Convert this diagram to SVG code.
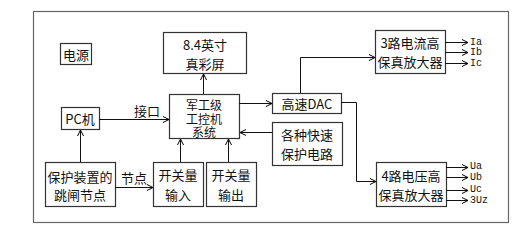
<svg xmlns="http://www.w3.org/2000/svg" width="531" height="235" viewBox="0 0 531 235">
<defs>
<marker id="ah" markerWidth="8" markerHeight="8" refX="7" refY="4" orient="auto" markerUnits="userSpaceOnUse">
<polyline points="1,1 7,4 1,7" fill="none" stroke="#000" stroke-width="1"/>
</marker>
<style>
.b{fill:#fff;stroke:#333;stroke-width:1.2}
.t{font-family:"Noto Sans CJK SC","Liberation Sans",sans-serif;font-size:13px;fill:#111;text-anchor:middle;dominant-baseline:central}
.s{font-size:12px}
.l{font-family:"Liberation Mono","Noto Sans CJK SC",monospace;font-size:10px;fill:#111;dominant-baseline:central}
.c{fill:none;stroke:#111;stroke-width:1;marker-end:url(#ah)}
</style>
</defs>
<rect width="531" height="235" fill="#fff"/>
<rect x="33.5" y="11.5" width="475" height="211" fill="none" stroke="#666" stroke-width="1.2"/>

<g id="power"><rect class="b" x="60.5" y="43.5" width="31" height="21"/><text class="t" x="76" y="54">电源</text></g>
<g id="screen"><rect class="b" x="163.5" y="32.5" width="83" height="41"/><text class="t" x="205" y="44.5">8.4英寸</text><text class="t" x="205" y="63.5">真彩屏</text></g>
<g id="ipc"><rect class="b" x="169.5" y="94.5" width="70" height="44"/><text class="t s" x="204" y="104">军工级<tspan x="204" dy="13.5">工控机</tspan><tspan x="204" dy="13.5">系统</tspan></text></g>
<g id="pc"><rect class="b" x="61.5" y="107.5" width="38" height="22"/><text class="t" x="80" y="118">PC机</text></g>
<g id="trip"><rect class="b" x="45.5" y="162.5" width="70" height="44"/><text class="t" x="80" y="176">保护装置的</text><text class="t" x="80" y="194">跳闸节点</text></g>
<g id="swin"><rect class="b" x="153.5" y="162.5" width="50" height="44"/><text class="t" x="178" y="174">开关量</text><text class="t" x="178" y="194">输入</text></g>
<g id="swout"><rect class="b" x="206.5" y="162.5" width="50" height="44"/><text class="t" x="231" y="174">开关量</text><text class="t" x="231" y="194">输出</text></g>
<g id="dac"><rect class="b" x="272.5" y="93.5" width="69" height="20"/><text class="t" x="307" y="103">高速DAC</text></g>
<g id="prot"><rect class="b" x="272.5" y="122.5" width="70" height="43"/><text class="t" x="307" y="134">各种快速</text><text class="t" x="307" y="153">保护电路</text></g>
<g id="iamp"><rect class="b" x="375.5" y="30.5" width="70" height="43"/><text class="t" x="410" y="42.5">3路电流高</text><text class="t" x="410" y="61.5">保真放大器</text></g>
<g id="uamp"><rect class="b" x="376.5" y="162.5" width="70" height="44"/><text class="t" x="411" y="175">4路电压高</text><text class="t" x="411" y="194">保真放大器</text></g>

<g id="connectors">
<path class="c" d="M203.5 94 V74"/>
<path class="c" d="M99 119.5 H169"/>
<path class="c" d="M80.5 162 V130"/>
<path class="c" d="M115 187.5 H153"/>
<path class="c" d="M180.5 162 V139"/>
<path class="c" d="M228.5 162 V139"/>
<path class="c" d="M239 103.5 H272"/>
<path class="c" d="M272 132.5 H240"/>
<path class="c" d="M300.5 93 V57.5 H375"/>
<path class="c" d="M341 102.5 H356.5 V181.5 H376"/>
<path class="c" d="M445 42.5 H468"/>
<path class="c" d="M445 52.5 H468"/>
<path class="c" d="M445 63.5 H468"/>
<path class="c" d="M446 167.5 H468"/>
<path class="c" d="M446 177.5 H468"/>
<path class="c" d="M446 190.5 H468"/>
<path class="c" d="M446 200.5 H468"/>
</g>
<text class="t" x="147" y="110">接口</text>
<text class="t" x="134" y="177">节点</text>
<text class="l" x="470" y="42">Ia</text>
<text class="l" x="470" y="52.5">Ib</text>
<text class="l" x="470" y="63.5">Ic</text>
<text class="l" x="470" y="166.5">Ua</text>
<text class="l" x="470" y="177.5">Ub</text>
<text class="l" x="470" y="189.5">Uc</text>
<text class="l" x="470" y="200.5">3Uz</text>
</svg>
